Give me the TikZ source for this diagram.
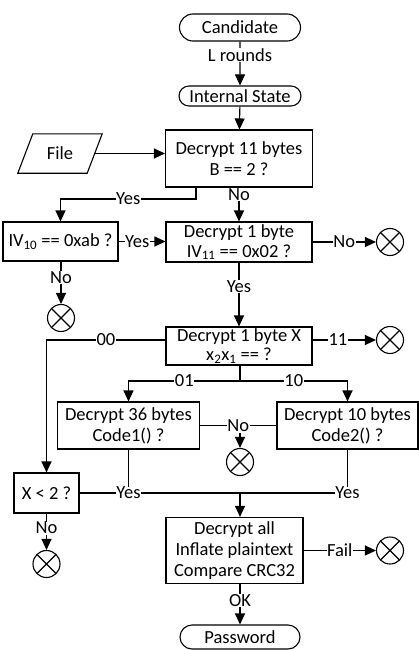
\documentclass[tikz,border=0pt]{standalone}
\usepackage{fontspec}
\setmainfont{Carlito}
\usetikzlibrary{shapes.geometric,shapes.misc,arrows.meta,backgrounds}
\begin{document}
\begin{tikzpicture}[x=1pt,y=-1pt,
  every node/.style={font=\fontsize{18.5}{21}\selectfont},
  line/.style={line width=1.1pt},
  arr/.style={line width=1.1pt, -{Triangle[length=11pt,width=10pt]}},
  box/.style={draw, line width=1.1pt, rectangle, align=center, inner sep=0pt},
  term/.style={draw, line width=1.1pt, rounded rectangle, inner sep=0pt},
  lbl/.style={fill=white, inner sep=0.5pt},
  xnode/.style={draw, circle, line width=1.1pt, minimum size=27pt, inner sep=0pt,
    path picture={\draw[line width=1.1pt] (path picture bounding box.south west) -- (path picture bounding box.north east)
      (path picture bounding box.north west) -- (path picture bounding box.south east);}},
]
\useasboundingbox (0,0) rectangle (419,650);

\node[term, minimum width=121pt, minimum height=27pt] (cand) at (240,27.5) {Candidate};
\node[term, minimum width=122pt, minimum height=20pt] (state) at (240,96) {Internal State};
\node[box, minimum width=147pt, minimum height=57pt] (b1) at (239,158.5) {Decrypt 11 bytes\\B == 2 ?};
\node[minimum width=69pt, minimum height=39pt, inner sep=0pt] (file) at (60,153.5) {File};
\draw[line] ([xshift=-7.5pt]file.south west) -- ([xshift=-7.5pt]file.south east)
  -- ([xshift=7.5pt]file.north east) -- ([xshift=7.5pt]file.north west) -- cycle;
\node[box, minimum width=115pt, minimum height=39pt] (iv10) at (60.5,241.5) {IV\textsubscript{10} == 0xab ?};
\node[box, minimum width=146pt, minimum height=40pt, font=\fontsize{18.5}{20}\selectfont] (b2) at (239,242) {Decrypt 1 byte\\IV\textsubscript{11} == 0x02 ?};
\node[xnode] (x1) at (390,242) {};
\node[xnode] (x2) at (61,318) {};
\node[box, minimum width=146pt, minimum height=38pt, font=\fontsize{18.5}{19}\selectfont] (b3) at (239,346) {Decrypt 1 byte X\\x\textsubscript{2}x\textsubscript{1} == ?};
\node[xnode] (x3) at (390,340) {};
\node[box, minimum width=142pt, minimum height=47pt] (b4) at (128.5,425.5) {Decrypt 36 bytes\\Code1() ?};
\node[box, minimum width=141pt, minimum height=47pt] (b5) at (347.5,425.5) {Decrypt 10 bytes\\Code2() ?};
\node[xnode] (x4) at (240,462) {};
\node[box, minimum width=65pt, minimum height=40pt] (xlt) at (46.5,493) {X < 2 ?};
\node[box, minimum width=137pt, minimum height=66pt] (b6) at (234.5,550.5) {Decrypt all\\Inflate plaintext\\Compare CRC32};
\node[xnode] (x5) at (390,550.5) {};
\node[xnode] (x6) at (46.5,564) {};
\node[term, minimum width=120pt, minimum height=24pt] (pw) at (240,637) {Password};

\coordinate (yb) at (196,199);
\coordinate (c00) at (46.5,340);
\coordinate (sp) at (240,381);
\coordinate (m) at (240,493);

\begin{scope}[on background layer]
\draw[arr] (cand) -- node[lbl, pos=0.3]{L rounds} (state);
\draw[arr] (state) -- (b1);
\draw[arr] (file.east) -- (file.east -| b1.west);
\draw[arr] (b1.south -| yb) -- (yb) -- node[lbl]{Yes} (yb -| iv10.north) -- (iv10.north);
\draw[arr] (b1.south) -- node[lbl, pos=0.2]{No} (b2.north);
\draw[arr] (iv10.east) -- node[lbl, pos=0.4]{Yes} (iv10.east -| b2.west);
\draw[arr] (b2.east) -- node[lbl]{No} (x1.west);
\draw[arr] (iv10.south -| x2) -- node[lbl, pos=0.37]{No} (x2.north);
\draw[arr] (b2.south) -- node[lbl, pos=0.38]{Yes} (b3.north);
\draw[arr] (b3.west |- c00) -- node[lbl]{00} (c00) -- (xlt.north);
\draw[arr] (b3.east |- x3) -- node[lbl, pos=0.4]{11} (x3.west);
\draw[line] (b3.south -| sp) -- (sp);
\draw[arr] (sp) -- node[lbl]{01} (sp -| b4.north) -- (b4.north);
\draw[arr] (sp) -- node[lbl]{10} (sp -| b5.north) -- (b5.north);
\draw[line] (b4.east) -- node[lbl] (no4){No} (b5.west);
\draw[arr] (no4.south -| x4) -- (x4.north);
\draw[line] (xlt.east) -- (m);
\draw[line] (b4.south) -- (b4.south |- m) node[lbl]{Yes};
\draw[line] (b5.south) -- (b5.south |- m) node[lbl]{Yes} -- (m);
\draw[arr] (m) -- (b6.north -| m);
\draw[arr] (b6.east) -- node[lbl]{Fail} (x5.west);
\draw[arr] (xlt.south) -- node[lbl, pos=0.4]{No} (x6.north);
\draw[arr] (b6.south -| pw) -- node[lbl, pos=0.4]{OK} (pw.north);
\end{scope}
\end{tikzpicture}
\end{document}
